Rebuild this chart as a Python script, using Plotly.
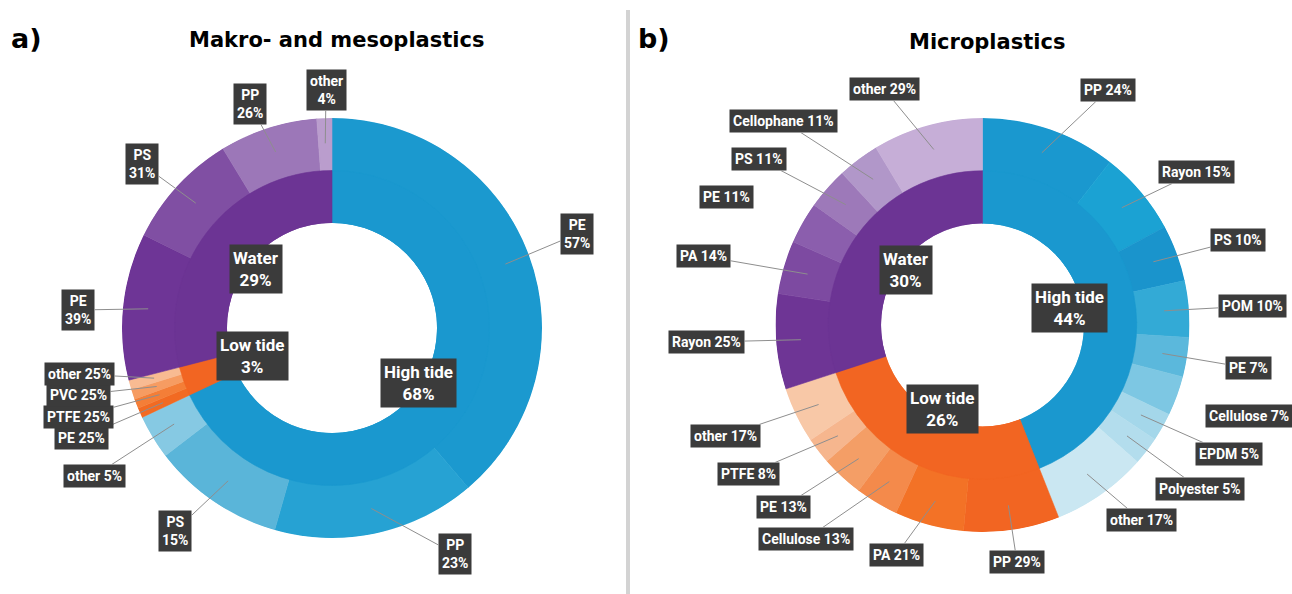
import math
import plotly.graph_objects as go

W, H = 1292, 594

# ---------------- data ----------------
A_groups = ["High tide", "Low tide", "Water"]
A_group_pct = [68, 3, 29]
A_high_names = ["PE", "PP", "PS", "other"]
A_high_pct = [57, 23, 15, 5]
A_low_names = ["PE", "PTFE", "PVC", "other"]
A_low_pct = [25, 25, 25, 25]
A_water_names = ["PE", "PS", "PP", "other"]
A_water_pct = [39, 31, 26, 4]

B_groups = ["High tide", "Low tide", "Water"]
B_group_pct = [44, 26, 30]
B_high_names = ["PP", "Rayon", "PS", "POM", "PE", "Cellulose", "EPDM", "Polyester", "other"]
B_high_pct = [24, 15, 10, 10, 7, 7, 5, 5, 17]
B_low_names = ["PP", "PA", "Cellulose", "PE", "PTFE", "other"]
B_low_pct = [29, 21, 13, 13, 8, 17]
B_water_names = ["Rayon", "PA", "PE", "PS", "Cellophane", "other"]
B_water_pct = [25, 14, 11, 11, 11, 29]

# ---------------- styles ----------------
INNER_COLORS = ["#1A98CF", "#F26522", "#6C3494"]
A_child_colors = [
    ["#1B99CF", "#26A2D3", "#5AB5D9", "#86C9E3"],
    ["#F26A22", "#F47E37", "#F69C62", "#F8BB92"],
    ["#6E3596", "#804FA3", "#9C77B8", "#BA9DCD"],
]
B_child_colors = [
    ["#1A98CF", "#1BA2D3", "#1A94CC", "#33AAD6", "#5BB8DC", "#7DC7E3", "#A4D7EA", "#B3DDED", "#CAE7F2"],
    ["#F26522", "#F37226", "#F48A4B", "#F49E66", "#F6B68E", "#F8C8A7"],
    ["#6E3595", "#7D4AA1", "#8B5EAD", "#9D79B9", "#B197C9", "#C6AED7"],
]

# layout: chart centres / radii in pixels, label box centres in pixels
A_geo = dict(cx=332, cy=328, R=210, hole=0.5)
B_geo = dict(cx=982.5, cy=325, R=207, hole=0.49)
A_inner_rfrac = [0.49, 0.40, 0.46]
B_inner_rfrac = [0.43, 0.45, 0.455]
A_label_pos = [
    [(577, 234), (455, 554), (175, 531), (94, 476)],
    [(81, 438), (78, 417), (78, 395), (79, 374)],
    [(78, 310), (142, 164), (250, 104), (326, 90)],
]
A_two_line = [[True, True, True, False], [False] * 4, [True] * 4]
B_label_pos = [
    [(1108, 90), (1196, 172), (1238, 240), (1252, 306), (1248, 368), (1249, 416),
     (1229, 454), (1200, 489), (1141, 520)],
    [(1017, 562), (896, 555), (806, 539), (783, 507), (748, 474), (725, 436)],
    [(706, 342), (703, 256), (726, 197), (759, 159), (783, 121), (884, 89)],
]
B_no_line = {(0, 5), (2, 2)}

LABEL_BG = "#3B3B3B"
LINE_COLOR = "#8E8E8E"
LABEL_FONT = dict(family="Roboto", size=14, color="white", weight="bold")
INNER_FONT = dict(family="Roboto", size=17, color="white", weight="bold")

fig = go.Figure()
annotations = []


def build(polar_id, geo, groups, group_pct, children, child_colors,
          inner_rfrac, label_pos, two_line, no_line):
    total = sum(group_pct)
    start = 0.0
    in_theta, in_width = [], []
    out_theta, out_width, out_colors = [], [], []
    for gi, g in enumerate(groups):
        span = group_pct[gi] / total * 360.0
        in_theta.append(start + span / 2)
        in_width.append(span)
        names, pcts = children[gi]
        csum = sum(pcts)
        cs = start
        for ci, (nm, p) in enumerate(zip(names, pcts)):
            cspan = span * p / csum
            mid = cs + cspan / 2
            out_theta.append(mid)
            out_width.append(cspan)
            out_colors.append(child_colors[gi][ci])
            ang = math.radians(mid)
            ax_px = geo["cx"] + 0.88 * geo["R"] * math.sin(ang)
            ay_px = geo["cy"] - 0.88 * geo["R"] * math.cos(ang)
            lx, ly = label_pos[gi][ci]
            txt = f"{nm}<br>{p}%" if two_line[gi][ci] else f"{nm} {p}%"
            if (gi, ci) in no_line:
                annotations.append(dict(
                    x=lx / W, y=1 - ly / H, xref="paper", yref="paper",
                    text=txt, showarrow=False, bgcolor=LABEL_BG, borderpad=3,
                    font=LABEL_FONT, xanchor="center", yanchor="middle"))
            else:
                annotations.append(dict(
                    x=ax_px / W, y=1 - ay_px / H, xref="paper", yref="paper",
                    ax=lx - ax_px, ay=ly - ay_px, axref="pixel", ayref="pixel",
                    text=txt, showarrow=True, arrowhead=0, arrowwidth=1,
                    arrowcolor=LINE_COLOR, standoff=0,
                    bgcolor=LABEL_BG, borderpad=3, font=LABEL_FONT))
            cs += cspan
        ang = math.radians(start + span / 2)
        ix = geo["cx"] + inner_rfrac[gi] * geo["R"] * math.sin(ang)
        iy = geo["cy"] - inner_rfrac[gi] * geo["R"] * math.cos(ang)
        annotations.append(dict(
            x=ix / W, y=1 - iy / H, xref="paper", yref="paper",
            text=f"{g}<br>{group_pct[gi]}%", showarrow=False,
            bgcolor=LABEL_BG, borderpad=3, font=INNER_FONT,
            xanchor="center", yanchor="middle"))
        start += span

    # outer ring drawn from the hole outward, inner ring on top (no seam)
    fig.add_trace(go.Barpolar(
        theta=out_theta, width=out_width, r=[2] * len(out_theta), base=[0] * len(out_theta),
        marker=dict(color=out_colors, line=dict(width=0.6, color=out_colors)),
        subplot=polar_id, showlegend=False, hoverinfo="skip"))
    fig.add_trace(go.Barpolar(
        theta=in_theta, width=in_width, r=[1] * len(in_theta), base=[0] * len(in_theta),
        marker=dict(color=INNER_COLORS, line=dict(width=0.6, color=INNER_COLORS)),
        subplot=polar_id, showlegend=False, hoverinfo="skip"))

    return dict(
        domain=dict(x=[(geo["cx"] - geo["R"]) / W, (geo["cx"] + geo["R"]) / W],
                    y=[1 - (geo["cy"] + geo["R"]) / H, 1 - (geo["cy"] - geo["R"]) / H]),
        hole=geo["hole"], bgcolor="rgba(0,0,0,0)", bargap=0, barmode="overlay",
        radialaxis=dict(visible=False, range=[0, 2]),
        angularaxis=dict(visible=False, rotation=90, direction="clockwise"),
    )


polarA = build("polar", A_geo, A_groups, A_group_pct,
               [(A_high_names, A_high_pct), (A_low_names, A_low_pct), (A_water_names, A_water_pct)],
               A_child_colors, A_inner_rfrac, A_label_pos, A_two_line, set())
polarB = build("polar2", B_geo, B_groups, B_group_pct,
               [(B_high_names, B_high_pct), (B_low_names, B_low_pct), (B_water_names, B_water_pct)],
               B_child_colors, B_inner_rfrac, B_label_pos,
               [[False] * 9, [False] * 6, [False] * 6], B_no_line)

TITLE_FONT = dict(family="DejaVu Sans", size=21, color="black", weight="bold")
PANEL_FONT = dict(family="DejaVu Sans", size=27, color="black", weight="bold")
annotations += [
    dict(x=336 / W, y=1 - 40 / H, xref="paper", yref="paper", text="Makro- and mesoplastics",
         showarrow=False, font=TITLE_FONT, xanchor="center", yanchor="middle"),
    dict(x=987 / W, y=1 - 42 / H, xref="paper", yref="paper", text="Microplastics",
         showarrow=False, font=TITLE_FONT, xanchor="center", yanchor="middle"),
    dict(x=9 / W, y=1 - 38 / H, xref="paper", yref="paper", text="a)",
         showarrow=False, font=PANEL_FONT, xanchor="left", yanchor="middle"),
    dict(x=636 / W, y=1 - 38 / H, xref="paper", yref="paper", text="b)",
         showarrow=False, font=PANEL_FONT, xanchor="left", yanchor="middle"),
]

fig.update_layout(
    width=W, height=H, margin=dict(l=0, r=0, t=0, b=0),
    paper_bgcolor="white", plot_bgcolor="white",
    polar=polarA, polar2=polarB,
    annotations=annotations,
    hovermode=False,
    shapes=[dict(type="line", xref="paper", yref="paper",
                 x0=628 / W, x1=628 / W, y0=0, y1=1 - 10 / H,
                 line=dict(color="#D3D3D3", width=4))],
)

fig.write_html("out.html", config={"displayModeBar": False},
               post_script="document.body.style.margin='0px';")
